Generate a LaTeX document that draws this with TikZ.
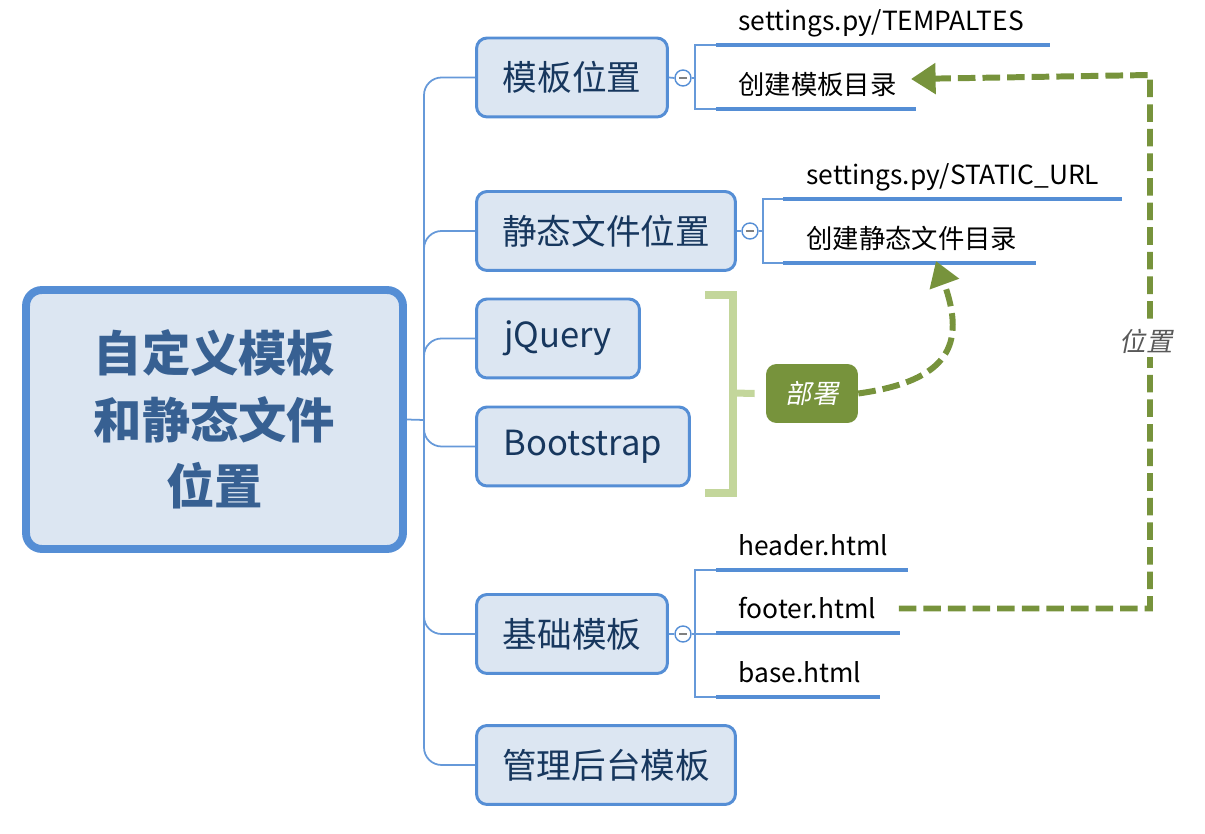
\documentclass[tikz,border=0pt]{standalone}
\usepackage{fontspec}
\setmainfont{Noto Sans CJK SC}
\newfontfamily\slantfont[FakeSlant=0.2]{Noto Sans CJK SC}
\usetikzlibrary{arrows.meta,calc,positioning}
\definecolor{topicblue}{RGB}{85,142,213}
\definecolor{topicfill}{RGB}{220,230,242}
\definecolor{roottext}{RGB}{55,96,146}
\definecolor{topictext}{RGB}{23,55,94}
\definecolor{relgreen}{RGB}{119,147,60}
\definecolor{sumgreen}{RGB}{195,214,155}
\definecolor{lblgray}{RGB}{89,89,89}

\begin{document}
\begin{tikzpicture}[x=0.02cm, y=-0.02cm,
		Root/.style={
			draw=topicblue, line width=4.5pt,
			fill=topicfill, rounded corners=9pt,
			text=roottext, align=center,
			font=\fontsize{27.5}{38}\selectfont\bfseries,
			minimum width=7.54cm, minimum height=5.18cm
		},
		Topic/.style={
			draw=topicblue, line width=1.7pt,
			fill=topicfill, rounded corners=6pt,
			text=topictext,
			font=\fontsize{19.7}{23}\selectfont,
			minimum height=1.58cm
		},
		Sub/.style={anchor=base west, inner sep=0pt, font=\fontsize{15}{17}\selectfont},
		Subline/.style={draw=topicblue, line width=2.8pt},
		Branch/.style={draw=topicblue!90, line width=1pt},
		Fold/.style={
			circle, draw=topicblue, line width=0.8pt, fill=white,
			minimum size=0.32cm, inner sep=0pt,
			path picture={\draw[gray, line width=1pt]
				([xshift=-0.08cm]path picture bounding box.center) --
				([xshift=0.08cm]path picture bounding box.center);}
		},
		Summary/.style={draw=sumgreen, line width=4pt},
		Rel/.style={
			draw=relgreen, line width=3.4pt,
			dash pattern=on 10pt off 4pt,
			-{Triangle[length=14pt, width=17pt]}
		},
		Note/.style={
			fill=relgreen, rounded corners=6pt, text=white,
			font=\slantfont\fontsize{15}{17}\selectfont,
			minimum width=1.84cm, minimum height=1.18cm
		},
		Label/.style={fill=white, inner sep=2pt, text=lblgray, font=\slantfont\fontsize{15}{17}\selectfont}
	]
	\useasboundingbox (0,0) rectangle (1205,834);

	% central topic
	\node[Root] (root) at (214.5,419.5) {自定义模板\\和静态文件\\位置};
	\coordinate (hub) at (424,420);

	% main topics
	\node[Topic, minimum width=3.82cm] (m1) at (572,77.5) {模板位置};
	\node[Topic, minimum width=5.18cm] (m2) at (606,231) {静态文件位置};
	\node[Topic, minimum width=3.26cm] (m3) at (558,338.5) {jQuery};
	\node[Topic, minimum width=4.26cm] (m4) at (583,446.5) {Bootstrap};
	\node[Topic, minimum width=3.82cm] (m5) at (572,634) {基础模板};
	\node[Topic, minimum width=5.18cm] (m6) at (606,765) {管理后台模板};

	\draw[Branch] (root.east) -- (hub);
	\foreach \m in {m1,m2,m3,m4,m5,m6}
		\draw[Branch, rounded corners=10pt] (hub) |- (\m.west);

	% subtopics of m1
	\node[Fold] (c1) at (683,78) {};
	\draw[Branch] (m1.east) -- (c1.west);
	\draw[Branch] (c1.east) -- (695,78);
	\draw[Branch] (716,45) -- (695,45) -- (695,109) -- (716,109);
	\node[Sub] (s11) at (738,31) {settings.py/TEMPALTES};
	\node[Sub] (s12) at (738,95) {创建模板目录};
	\draw[Subline] (716,45) -- (1050,45);
	\draw[Subline] (716,109) -- (916,109);

	% subtopics of m2
	\node[Fold] (c2) at (750,231) {};
	\draw[Branch] (m2.east) -- (c2.west);
	\draw[Branch] (c2.east) -- (763,231);
	\draw[Branch] (783,199) -- (763,199) -- (763,263) -- (783,263);
	\node[Sub] (s21) at (806,185) {settings.py/STATIC\_URL};
	\node[Sub] (s22) at (806,249) {创建静态文件目录};
	\draw[Subline] (783,199) -- (1122,199);
	\draw[Subline] (783,263) -- (1036,263);

	% subtopics of m5
	\node[Fold] (c5) at (683,634) {};
	\draw[Branch] (m5.east) -- (c5.west);
	\draw[Branch] (c5.east) -- (716,634);
	\draw[Branch] (716,570) -- (695,570) -- (695,697) -- (716,697);
	\node[Sub] (s51) at (738,556) {header.html};
	\node[Sub] (s52) at (738,619) {footer.html};
	\node[Sub] (s53) at (738,683) {base.html};
	\draw[Subline] (716,570) -- (908,570);
	\draw[Subline] (716,633) -- (900,633);
	\draw[Subline] (716,697) -- (880,697);

	% summary of jQuery and Bootstrap
	\node[Note] (dep) at (812,393.5) {部署};
	\draw[Summary] (705,295) -- (733,295) -- (733,493) -- (705,493);
	\draw[Summary] (733,393) -- ($(dep.west)+(-11,0)$);

	% relationships
	\coordinate (tip2) at (936,261);
	\draw[Rel] (dep.east) to[out=8, in=-70, looseness=1.5] (tip2);
	\coordinate (corner) at (1150,75);
	\coordinate (tip1) at (911,79);
	\draw[Rel] ([xshift=0.45cm]s52.east) -| (corner) -- (tip1);
	\node[Label] (pos) at (1146,341) {位置};
\end{tikzpicture}
\end{document}
